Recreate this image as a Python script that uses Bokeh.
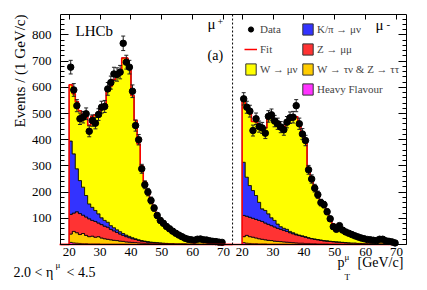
import numpy as np
from bokeh.plotting import figure
from bokeh.models import (LinearAxis, FixedTicker, Label, Legend, LegendItem,
                          BoxAnnotation)
from bokeh.embed import file_html
from bokeh.resources import INLINE

FONT = "Liberation Serif"

# ---------------- data ----------------
bin_low = list(range(20, 70))           # 1 GeV/c bins, 20..70
x_tick_vals = [20, 30, 40, 50, 60, 70]
y_tick_vals = [100, 200, 300, 400, 500, 600, 700, 800]

# mu+ panel
plus_data = [677, 590, 530, 480, 486, 499, 432, 473, 463, 496,
             524, 527, 594, 618, 651, 649, 658, 768, 696, 677,
             585, 454, 400, 289, 228, 200, 168, 139, 111, 92,
             81, 69, 60, 51, 43, 36, 30, 24, 20, 18,
             16, 20, 21, 18, 17, 14, 12, 11, 9, 8]
plus_HF = [8, 6, 5, 4, 3, 3, 2, 2, 2, 2, 1, 1, 1, 1, 1, 1, 1, 1, 1, 1,
           1, 0, 0, 0, 0, 0, 0, 0, 0, 0, 0, 0, 0, 0, 0, 0, 0, 0, 0, 0,
           0, 0, 0, 0, 0, 0, 0, 0, 0, 0]
plus_tau = [32, 44, 40, 34, 39, 32, 28, 30, 26, 28, 24, 21, 19, 17, 15, 14, 12, 11, 9, 8,
            7, 7, 6, 5, 4, 4, 3, 3, 2, 2, 2, 2, 1, 1, 1, 1, 1, 1, 1, 1,
            1, 1, 0, 0, 0, 0, 0, 0, 0, 0]
plus_Z = [75, 70, 80, 80, 70, 70, 68, 60, 60, 52, 51, 48, 46, 40, 36, 31, 27, 23, 20, 17,
          14, 12, 10, 8, 7, 5, 5, 4, 4, 3, 2, 2, 2, 2, 1, 1, 1, 1, 0, 0,
          0, 0, 1, 1, 1, 1, 1, 1, 1, 1]
plus_Kpi = [280, 226, 164, 126, 107, 82, 57, 50, 42, 35, 26, 22, 19, 14, 12, 10, 9, 7, 6, 5,
            4, 3, 2, 2, 2, 2, 1, 1, 1, 1, 1, 0, 0, 0, 0, 0, 0, 0, 0, 0,
            0, 0, 0, 0, 0, 0, 0, 0, 0, 0]
plus_W = [215, 229, 256, 266, 276, 303, 300, 348, 365, 388,
          413, 428, 505, 533, 566, 589, 606, 670, 676, 641,
          543, 451, 366, 285, 227, 194, 166, 137, 111, 92,
          79, 68, 58, 50, 42, 36, 30, 25, 22, 19,
          17, 16, 15, 14, 13, 12, 11, 10, 9, 8]

# mu- panel
minus_data = [556, 524, 509, 435, 480, 450, 445, 425, 489, 495,
              471, 461, 448, 438, 467, 484, 486, 530, 461, 422,
              397, 285, 250, 215, 190, 160, 152, 125, 98, 68,
              58, 72, 55, 48, 43, 38, 33, 29, 25, 22,
              19, 18, 16, 15, 20, 20, 14, 12, 10, 6]
minus_HF = [7, 5, 4, 3, 3, 2, 2, 2, 1, 1, 1, 1, 1, 1, 1, 1, 1, 1, 1, 1,
            0, 0, 0, 0, 0, 0, 0, 0, 0, 0, 0, 0, 0, 0, 0, 0, 0, 0, 0, 0,
            0, 0, 0, 0, 0, 0, 0, 0, 0, 0]
minus_tau = [23, 30, 26, 25, 22, 20, 18, 16, 15, 14, 12, 11, 10, 9, 8, 7, 6, 5, 4, 4,
             4, 4, 3, 3, 2, 2, 2, 2, 1, 1, 1, 1, 1, 1, 0, 0, 0, 0, 0, 0,
             0, 0, 0, 0, 0, 0, 0, 0, 0, 0]
minus_Z = [81, 73, 74, 72, 71, 70, 68, 64, 61, 57, 54, 50, 47, 44, 41, 37, 34, 31, 29, 26,
           24, 21, 19, 17, 16, 14, 12, 11, 11, 10, 9, 8, 7, 6, 6, 5, 5, 4, 4, 3,
           3, 3, 2, 2, 2, 2, 1, 1, 1, 1]
minus_Kpi = [203, 149, 121, 106, 91, 69, 48, 48, 40, 30, 25, 16, 10, 8, 8, 5, 4, 3, 2, 2,
             2, 1, 1, 1, 1, 1, 1, 1, 0, 0, 0, 0, 0, 0, 0, 0, 0, 0, 0, 0,
             0, 0, 0, 0, 0, 0, 0, 0, 0, 0]
minus_W = [236, 271, 280, 264, 281, 283, 309, 315, 369, 383,
           383, 387, 387, 388, 410, 430, 440, 448, 424, 396,
           373, 264, 225, 194, 169, 145, 130, 108, 86, 67,
           56, 51, 45, 40, 36, 32, 27, 24, 21, 19,
           17, 15, 14, 13, 12, 11, 11, 9, 8, 7]

comp_labels = ["Heavy Flavour", "W \u2192 \u03c4\u03bd & Z \u2192 \u03c4\u03c4",
               "Z \u2192 \u03bc\u03bc", "K/\u03c0 \u2192 \u03bc\u03bd", "W \u2192 \u03bc\u03bd"]
comp_colors = ["#ff33ff", "#ffcc00", "#ff3333", "#3333ff", "#ffff00"]

# ---------------- layout constants ----------------
W_PX, H_PX = 418, 288                    # canvas
FR_L, FR_T, FR_W, FR_H = 60, 14, 346, 230  # visible box in canvas pixels
SHIFT = 56                               # x offset of the mu- panel
X_LO, X_HI = 17.2, 129.2
DIV = 72.9                               # panel divider
Y_HI = 878

sx = FR_W / (X_HI - X_LO)
sy = FR_H / Y_HI
xr = (X_LO - FR_L / sx, X_LO - FR_L / sx + W_PX / sx)
yr = (Y_HI + FR_T / sy - H_PX / sy, Y_HI + FR_T / sy)

p = figure(width=W_PX, height=H_PX, x_range=xr, y_range=yr, title=None,
           output_backend="svg", toolbar_location=None, min_border=0,
           background_fill_color="white", border_fill_color="white",
           outline_line_color=None)
p.xgrid.visible = False
p.ygrid.visible = False


def step_xy(edges, vals):
    xs, ys = [], []
    for i, v in enumerate(vals):
        xs += [edges[i], edges[i + 1]]
        ys += [v, v]
    return xs, ys


def draw_panel(shift, data, comps, x_lo, x_hi):
    edges = [b + shift for b in bin_low] + [bin_low[-1] + 1 + shift]
    lower = np.zeros(len(bin_low))
    levels, boxes = [], []
    for comp, col in zip(comps, comp_colors):
        upper = lower + np.array(comp, dtype=float)
        q = p.quad(left=edges[:-1], right=edges[1:], bottom=list(lower), top=list(upper),
                   fill_color=col, line_color="#333333", line_width=1)
        boxes.append(q)
        xs, y1 = step_xy(edges, lower)
        _, y2 = step_xy(edges, upper)
        p.varea(x=xs, y1=y1, y2=y2, fill_color=col)
        levels.append(upper)
        lower = upper
    for lev in levels:
        p.step(x=edges, y=list(lev) + [lev[-1]], mode="after", line_color="black", line_width=0.8)
    total = levels[-1]
    fx = [x_lo] + edges + [x_hi]
    fy = [0] + list(total) + [0, 0]
    fit = p.step(x=fx, y=fy, mode="after", line_color="#ff0000", line_width=1.5)
    xc = [b + 0.5 + shift for b in bin_low]
    d = np.array(data, dtype=float)
    err = np.sqrt(d)
    p.segment(x0=xc, y0=d - err, x1=xc, y1=d + err, line_color="#222222", line_width=1)
    p.scatter(x=xc + xc, y=list(d - err) + list(d + err), marker="dash", size=4,
              line_color="#222222", line_width=1)
    pts = p.scatter(x=xc, y=list(d), marker="circle", size=6.5, fill_color="black", line_color="black")
    return pts, fit, boxes


pts, fit, boxes = draw_panel(0, plus_data, [plus_HF, plus_tau, plus_Z, plus_Kpi, plus_W], X_LO, DIV)
draw_panel(SHIFT, minus_data, [minus_HF, minus_tau, minus_Z, minus_Kpi, minus_W], DIV - SHIFT, X_HI - SHIFT)

# panel divider (dotted) and visible frame box
p.line(x=[DIV, DIV], y=[0, Y_HI], line_color="black", line_dash="2 2", line_width=1)
p.add_layout(BoxAnnotation(left=X_LO, right=X_HI, bottom=0, top=Y_HI, fill_color=None,
                           fill_alpha=0, line_color="black", line_width=1, line_alpha=1))

# ---------------- axes ----------------
xt = x_tick_vals + [t + SHIFT for t in x_tick_vals]
p.xaxis.fixed_location = 0
p.xaxis.ticker = FixedTicker(ticks=xt, minor_ticks=[])
p.xaxis.major_label_overrides = {t: str(t if t < 71 else t - SHIFT) for t in xt}
p.xaxis.major_tick_in = 0
p.xaxis.major_tick_out = 0
p.xaxis.minor_tick_in = 0
p.xaxis.minor_tick_out = 0
p.xaxis.axis_line_color = None
p.xaxis.major_label_standoff = 3
p.xaxis.major_label_text_font = FONT
p.xaxis.major_label_text_font_size = "13px"
p.xaxis.major_label_text_color = "black"

y_minor = list(range(0, 880, 20))
p.yaxis.fixed_location = X_LO
p.yaxis.ticker = FixedTicker(ticks=y_tick_vals, minor_ticks=y_minor)
p.yaxis.major_tick_in = 8
p.yaxis.major_tick_out = 0
p.yaxis.minor_tick_in = 4
p.yaxis.minor_tick_out = 0
p.yaxis.axis_line_color = None
p.yaxis.major_label_standoff = 9
p.yaxis.major_label_text_font = FONT
p.yaxis.major_label_text_font_size = "13px"
p.yaxis.major_label_text_color = "black"

# mirrored tick marks (no labels): right side long + short, top side
for ticks_list, length in ((y_tick_vals, 8), (y_minor, 4)):
    ax = LinearAxis(ticker=FixedTicker(ticks=[], minor_ticks=ticks_list), fixed_location=X_HI,
                    major_tick_in=0, major_tick_out=0, minor_tick_in=length, minor_tick_out=0,
                    axis_line_color=None)
    p.add_layout(ax, "right")
tx = LinearAxis(ticker=FixedTicker(ticks=[], minor_ticks=xt), fixed_location=Y_HI,
                major_tick_in=0, major_tick_out=0, minor_tick_in=5, minor_tick_out=0,
                axis_line_color=None)
p.add_layout(tx, "above")

# ---------------- legends ----------------
common = dict(orientation="vertical", glyph_width=13, glyph_height=14, label_height=14,
              label_standoff=3, spacing=6, padding=0, margin=0,
              border_line_alpha=0, background_fill_alpha=0,
              label_text_font=FONT, label_text_font_size="11px")
leg1 = Legend(items=[LegendItem(label="Data", renderers=[pts]),
                     LegendItem(label="Fit", renderers=[fit]),
                     LegendItem(label=comp_labels[4], renderers=[boxes[4]])],
              location=(244, H_PX - 76), **common)
leg2 = Legend(items=[LegendItem(label=comp_labels[k], renderers=[boxes[k]]) for k in (3, 2, 1, 0)],
              location=(301, H_PX - 96), **common)
p.add_layout(leg1)
p.add_layout(leg2)

# ---------------- texts (canvas pixels, y measured from the top) ----------------
def lab(text, x, y_top, size, **kw):
    p.add_layout(Label(x=x, y=H_PX - y_top, x_units="screen", y_units="screen", text=text,
                       text_font=FONT, text_font_size=size, text_color="black", **kw))

lab("LHCb", 75, 38.5, "15px")
lab("\u03bc", 207, 31, "15px")
lab("+", 217, 24, "10px")
lab("(a)", 207, 62, "14px")
lab("\u03bc", 375, 32, "15px")
lab("-", 386, 27, "11px")
lab("Events / (1 GeV/c)", 19, 14, "15px", angle=np.pi / 2, text_align="right", text_baseline="middle")
lab("2.0 < \u03b7", 13, 279, "14px")
lab("\u03bc", 55, 269, "9px")
lab("< 4.5", 66, 279, "14px")
lab("p", 337, 269, "14px")
lab("T", 344, 281, "9px")
lab("\u03bc", 344, 261, "9px")
lab("[GeV/c]", 357, 269, "14px")

open("out.html", "w").write(file_html(p, INLINE))
